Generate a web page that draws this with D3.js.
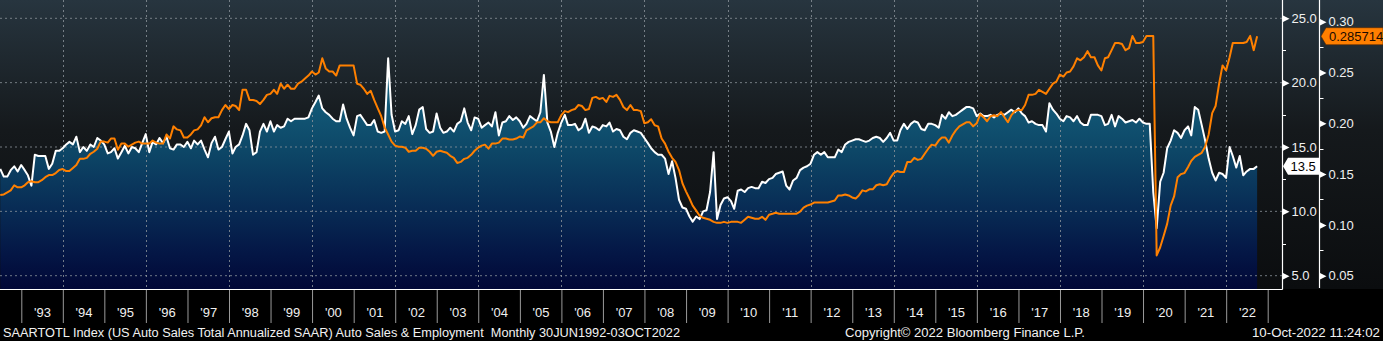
<!DOCTYPE html>
<html><head><meta charset="utf-8">
<script src="https://cdn.jsdelivr.net/npm/d3@7"></script>
<style>
html,body{margin:0;padding:0;background:#000;overflow:hidden}
svg{display:block}
text{font-family:"Liberation Sans",Arial,sans-serif}
</style></head><body>
<svg id="c" width="1383" height="341"></svg>
<script>
// ---- data (month-end observations starting June 1992) ----
const startMonth = [1992, 6];
const sales = [
13.3,12.7,12.7,13.2,13.5,13.1,13.6,13.2,12.8,12.0,14.4,14.3,
14.3,14.3,13.3,13.7,14.7,14.7,14.9,15.2,15.4,15.2,15.8,14.6,
15.0,14.7,15.2,15.0,15.7,15.5,15.2,14.5,14.6,14.9,14.1,14.6,
15.1,14.5,15.0,14.9,14.6,15.3,16.0,14.6,15.4,15.2,15.7,15.3,
15.8,14.9,14.8,15.2,15.2,15.0,15.4,14.9,15.5,15.2,15.5,14.8,
14.2,15.3,15.8,14.8,15.0,15.6,16.2,14.5,15.0,15.2,15.9,16.8,
16.3,14.4,14.6,16.2,16.8,16.2,17.0,16.2,16.7,16.5,16.6,17.2,
17.0,17.2,17.2,17.2,17.2,17.3,18.0,18.5,19.0,18.0,17.7,17.5,
17.2,17.0,17.0,18.3,17.2,16.5,15.9,17.4,17.5,17.1,16.7,16.7,
17.1,16.2,16.1,16.2,21.9,17.5,16.2,16.3,17.0,16.8,17.4,16.0,
16.7,17.9,18.1,16.4,16.1,16.2,17.6,16.5,16.1,16.2,16.5,16.2,
16.8,17.0,18.0,16.9,16.3,17.3,17.2,16.5,16.7,16.9,16.6,17.7,
15.9,16.9,17.0,17.4,17.1,17.3,17.0,16.5,16.8,17.4,17.2,17.0,
17.7,20.6,16.9,16.2,15.0,16.1,16.9,17.5,16.7,16.7,16.8,16.3,
16.5,17.2,16.1,16.6,16.5,16.3,16.7,16.6,16.9,16.2,16.4,16.3,
15.8,15.6,16.1,16.3,16.2,16.1,15.7,15.3,14.9,14.6,14.4,14.4,
14.1,12.9,13.9,12.6,10.9,10.3,10.2,9.6,9.2,9.6,9.4,10.0,
10.1,11.5,14.6,9.4,10.5,11.0,11.1,10.8,10.2,11.6,11.7,11.5,
11.8,11.9,11.8,11.8,12.3,12.2,12.5,12.6,12.9,13.0,13.1,12.0,
11.7,12.4,12.6,13.2,13.4,13.5,13.7,14.4,14.6,14.4,14.6,14.2,
14.2,14.2,14.8,14.6,15.2,15.4,15.5,15.6,15.6,15.5,15.4,15.5,
15.7,15.8,15.7,15.4,15.7,16.1,15.5,15.5,16.3,16.8,16.4,16.8,
17.0,16.9,16.4,16.3,16.8,16.8,16.7,16.5,17.5,17.2,17.7,17.4,
17.5,17.7,17.9,18.1,18.1,18.0,17.4,17.6,17.4,17.4,17.5,17.3,
17.5,17.6,17.5,17.7,17.9,17.7,18.0,17.6,17.4,16.9,17.0,16.8,
16.7,16.7,16.2,18.4,17.9,17.6,17.2,17.0,17.4,17.3,17.0,17.4,
16.9,16.7,16.7,17.5,17.5,17.5,17.4,16.7,16.8,17.5,16.6,17.4,
17.2,16.9,17.0,17.1,16.9,17.2,16.9,16.8,16.8,11.5,8.7,12.3,
13.0,14.9,15.5,16.3,16.1,15.7,16.3,16.6,15.9,18.1,17.9,16.7,
15.5,14.1,13.0,12.4,13.0,12.9,12.6,15.0,14.3,13.4,14.3,12.8,
13.1,13.3,13.3,13.5
];
const ratio = [
0.1295,0.130,0.132,0.134,0.139,0.137,0.137,0.139,0.142,0.143,0.142,0.142,
0.144,0.147,0.149,0.149,0.151,0.154,0.155,0.153,0.153,0.156,0.159,0.165,
0.165,0.166,0.170,0.172,0.175,0.182,0.182,0.181,0.185,0.185,0.174,0.180,
0.180,0.177,0.179,0.181,0.182,0.180,0.180,0.180,0.183,0.181,0.180,0.180,
0.189,0.185,0.197,0.194,0.193,0.186,0.186,0.189,0.193,0.194,0.198,0.206,
0.201,0.205,0.206,0.206,0.213,0.218,0.214,0.218,0.217,0.213,0.233,0.233,
0.223,0.223,0.222,0.219,0.223,0.228,0.229,0.233,0.229,0.239,0.234,0.238,
0.234,0.234,0.239,0.241,0.244,0.247,0.251,0.248,0.250,0.264,0.254,0.251,
0.251,0.247,0.257,0.257,0.257,0.257,0.257,0.239,0.238,0.234,0.229,0.232,
0.223,0.215,0.207,0.196,0.189,0.182,0.178,0.177,0.177,0.176,0.172,0.173,
0.173,0.176,0.176,0.175,0.172,0.168,0.172,0.173,0.172,0.171,0.168,0.166,
0.161,0.162,0.165,0.166,0.169,0.173,0.176,0.178,0.179,0.175,0.180,0.180,
0.181,0.185,0.185,0.184,0.184,0.185,0.187,0.186,0.193,0.195,0.197,0.201,
0.201,0.205,0.202,0.201,0.201,0.201,0.208,0.212,0.211,0.213,0.214,0.218,
0.217,0.213,0.214,0.225,0.226,0.224,0.225,0.221,0.227,0.226,0.228,0.223,
0.216,0.213,0.218,0.213,0.213,0.212,0.200,0.201,0.204,0.198,0.197,0.185,
0.180,0.172,0.166,0.162,0.154,0.141,0.133,0.126,0.119,0.114,0.109,0.107,
0.106,0.105,0.103,0.102,0.102,0.103,0.102,0.103,0.103,0.103,0.102,0.105,
0.108,0.107,0.106,0.106,0.108,0.105,0.110,0.111,0.112,0.111,0.111,0.111,
0.111,0.111,0.111,0.113,0.117,0.119,0.120,0.122,0.122,0.122,0.122,0.122,
0.123,0.124,0.129,0.129,0.130,0.129,0.127,0.126,0.129,0.134,0.133,0.135,
0.135,0.139,0.140,0.139,0.140,0.146,0.151,0.153,0.152,0.152,0.162,0.162,
0.166,0.164,0.165,0.170,0.175,0.179,0.178,0.183,0.186,0.186,0.181,0.188,
0.193,0.197,0.199,0.201,0.201,0.197,0.200,0.209,0.206,0.202,0.207,0.208,
0.207,0.211,0.206,0.201,0.208,0.212,0.213,0.213,0.218,0.228,0.228,0.229,
0.233,0.231,0.229,0.234,0.239,0.241,0.248,0.246,0.250,0.251,0.256,0.264,
0.262,0.265,0.271,0.265,0.265,0.257,0.252,0.264,0.265,0.272,0.279,0.279,
0.278,0.272,0.274,0.286,0.279,0.279,0.280,0.286,0.286,0.286,0.070,0.078,
0.089,0.101,0.119,0.128,0.147,0.150,0.151,0.157,0.163,0.167,0.169,0.171,
0.177,0.189,0.210,0.217,0.239,0.257,0.252,0.265,0.279,0.279,0.279,0.279,
0.280,0.286,0.272,0.285714
];
const leftTicks = [5, 10, 15, 20, 25];
const leftMinor = [7.5, 12.5, 17.5, 22.5];
const rightTicks = [0.05, 0.10, 0.15, 0.20, 0.25, 0.30];
const rightMinor = [0.075, 0.125, 0.175, 0.225, 0.275];
const labelYears = [1993,1994,1995,1996,1997,1998,1999,2000,2001,2002,2003,2004,2005,2006,2007,
  2008,2009,2010,2011,2012,2013,2014,2015,2016,2017,2018,2019,2020,2021,2022];
const yearLabels = ["'93","'94","'95","'96","'97","'98","'99","'00","'01","'02","'03","'04","'05","'06","'07",
  "'08","'09","'10","'11","'12","'13","'14","'15","'16","'17","'18","'19","'20","'21","'22"];
const gridYears = [1994,1996,1998,2000,2002,2004,2006,2008,2010,2012,2014,2016,2018,2020,2022];
const footerLeft = "SAARTOTL Index (US Auto Sales Total Annualized SAAR) Auto Sales & Employment  Monthly 30JUN1992-03OCT2022";
const footerMid = "Copyright\u00A9 2022 Bloomberg Finance L.P.";
const footerRight = "10-Oct-2022 11:24:02";

// ---- layout ----
const W = 1383, H = 341, plotR = 1282, plotB = 289, axis2X = 1319.5;
const svg = d3.select("#c");
const dates = sales.map((_, i) => new Date(startMonth[0], startMonth[1] + i, 0));

const x = d3.scaleTime().domain([new Date(1993,0,1), new Date(2023,0,1)]).range([21.3, 1267.7]);
const yL = d3.scaleLinear().domain([5, 25]).range([275.7, 18.3]);
const yR = d3.scaleLinear().domain([0.05, 0.30]).range([275.7, 21.7]);

const defs = svg.append("defs");
const bg = defs.append("linearGradient").attr("id","bg").attr("x1",0).attr("y1",0).attr("x2",0).attr("y2",1);
[[0,"#27353f"],[0.45,"#15191c"],[1,"#0b0d0f"]].forEach(s=>bg.append("stop").attr("offset",s[0]).attr("stop-color",s[1]));
const ar = defs.append("linearGradient").attr("id","ar").attr("gradientUnits","userSpaceOnUse")
  .attr("x1",0).attr("y1",0).attr("x2",0).attr("y2",plotB);
[[0,"#1d7a98"],[0.33,"#135c7a"],[0.52,"#0d4767"],[0.72,"#082c55"],[0.88,"#041645"],[1,"#010736"]]
  .forEach(s=>ar.append("stop").attr("offset",s[0]).attr("stop-color",s[1]));
defs.append("clipPath").attr("id","clip").append("rect").attr("x",0).attr("y",0).attr("width",plotR).attr("height",plotB);

svg.append("rect").attr("width",W).attr("height",H).attr("fill","#000");
svg.append("rect").attr("x",0).attr("y",0).attr("width",W).attr("height",plotB).attr("fill","url(#bg)");

const g = svg.append("g").attr("clip-path","url(#clip)");
g.append("path").datum(sales)
  .attr("d", d3.area().x((d,i)=>x(dates[i])).y0(plotB).y1(d=>yL(d)))
  .attr("fill","url(#ar)");

// grid
g.selectAll("line.hg").data(leftTicks).join("line").attr("class","hg")
  .attr("x1",0).attr("x2",plotR).attr("y1",d=>yL(d)).attr("y2",d=>yL(d))
  .attr("stroke","#8c949b").attr("stroke-width",1).attr("stroke-dasharray","2,3").attr("opacity",0.8);
g.selectAll("line.vg").data(gridYears).join("line").attr("class","vg")
  .attr("x1",d=>Math.round(x(new Date(d,0,1)))+0.5).attr("x2",d=>Math.round(x(new Date(d,0,1)))+0.5)
  .attr("y1",0).attr("y2",plotB)
  .attr("stroke","#8c949b").attr("stroke-width",1).attr("stroke-dasharray","2,3").attr("opacity",0.8);

g.append("path").datum(sales)
  .attr("d", d3.line().x((d,i)=>x(dates[i])).y(d=>yL(d)))
  .attr("fill","none").attr("stroke","#ffffff").attr("stroke-width",2).attr("stroke-linejoin","round");
g.append("path").datum(ratio)
  .attr("d", d3.line().x((d,i)=>x(dates[i])).y(d=>yR(d)))
  .attr("fill","none").attr("stroke","#ff8000").attr("stroke-width",2).attr("stroke-linejoin","round");

// axis frame
svg.append("line").attr("x1",0).attr("x2",plotR+0.5).attr("y1",plotB+0.5).attr("y2",plotB+0.5).attr("stroke","#fff").attr("stroke-width",1.2);
svg.append("line").attr("x1",plotR+0.5).attr("x2",plotR+0.5).attr("y1",0).attr("y2",plotB+0.5).attr("stroke","#fff").attr("stroke-width",1.2);
svg.append("line").attr("x1",axis2X).attr("x2",axis2X).attr("y1",0).attr("y2",plotB-1).attr("stroke","#fff").attr("stroke-width",1.2);

// left value axis (drawn on right side)
const aL = svg.append("g").attr("transform",`translate(${plotR+0.5},0)`)
  .call(d3.axisRight(yL).tickValues(leftTicks).tickFormat(d3.format(".1f")).tickSize(0).tickPadding(9));
aL.select(".domain").remove();
aL.selectAll("text").attr("fill","#f0f0f0").attr("font-size",13).attr("font-family","Liberation Sans, Arial, sans-serif");
aL.selectAll(".tick").append("path").attr("d","M0,-3.5L7,0L0,3.5Z").attr("fill","#fff");
svg.selectAll("line.lm").data(leftMinor).join("line").attr("class","lm")
  .attr("x1",plotR).attr("x2",plotR+4).attr("y1",d=>Math.round(yL(d))+0.5).attr("y2",d=>Math.round(yL(d))+0.5).attr("stroke","#fff");

const aR = svg.append("g").attr("transform",`translate(${axis2X},0)`)
  .call(d3.axisRight(yR).tickValues(rightTicks).tickFormat(d3.format(".2f")).tickSize(0).tickPadding(9));
aR.select(".domain").remove();
aR.selectAll("text").attr("fill","#f0f0f0").attr("font-size",13).attr("font-family","Liberation Sans, Arial, sans-serif");
aR.selectAll(".tick").append("path").attr("d","M0,-3.5L7,0L0,3.5Z").attr("fill","#fff");
svg.selectAll("line.rm").data(rightMinor).join("line").attr("class","rm")
  .attr("x1",axis2X).attr("x2",axis2X+4).attr("y1",d=>Math.round(yR(d))+0.5).attr("y2",d=>Math.round(yR(d))+0.5).attr("stroke","#fff");

// bottom axis: year separators + labels
const sepYears = labelYears.concat([labelYears[labelYears.length-1]+1]);
const sep = svg.append("g").attr("transform",`translate(0,${plotB+1})`)
  .call(d3.axisBottom(x).tickValues(sepYears.map(y=>new Date(y,0,1))).tickSize(33).tickFormat(""));
sep.select(".domain").remove();
sep.selectAll("line").attr("stroke","#9a9a9a");
const yl = svg.append("g").attr("transform",`translate(0,${plotB})`)
  .call(d3.axisBottom(x).tickValues(labelYears.map(y=>new Date(y,6,2))).tickSize(0).tickPadding(19)
    .tickFormat((d,i)=>yearLabels[i]));
yl.select(".domain").remove();
yl.selectAll("text").attr("fill","#f0f0f0").attr("font-size",13).attr("font-family","Liberation Sans, Arial, sans-serif");

// last-value labels
const lastS = sales[sales.length-1], lastR = ratio[ratio.length-1];
const sy = yL(lastS);
svg.append("path").attr("d",`M${plotR+1},${sy}L${plotR+6},${sy-8.5}L${axis2X-0.5},${sy-8.5}L${axis2X-0.5},${sy+8.5}L${plotR+6},${sy+8.5}Z`).attr("fill","#fff");
svg.append("text").attr("x",plotR+8.5).attr("y",sy+4.6).attr("font-size",13).attr("fill","#000").text(d3.format(".1f")(lastS));
const ry = yR(lastR);
svg.append("path").attr("d",`M${axis2X+1.5},${ry}L${axis2X+6.5},${ry-8.5}L${W},${ry-8.5}L${W},${ry+8.5}L${axis2X+6.5},${ry+8.5}Z`)
  .attr("fill","#ff7f00").attr("stroke","#5a2a00").attr("stroke-width",0.6);
svg.append("text").attr("x",axis2X+9.5).attr("y",ry+4.6).attr("font-size",13).attr("fill","#1a0a00").text(d3.format(".6f")(lastR));

// footer
function foot(t, x0, w, anchor){
  svg.append("text").attr("x",x0).attr("y",337).attr("font-size",12.5).attr("fill","#f2f2f2")
    .attr("textLength",w).attr("lengthAdjust","spacingAndGlyphs").style("white-space","pre").text(t);
}
foot(footerLeft, 3, 677);
foot(footerMid, 845, 240);
foot(footerRight, 1252, 128);
</script></body></html>
